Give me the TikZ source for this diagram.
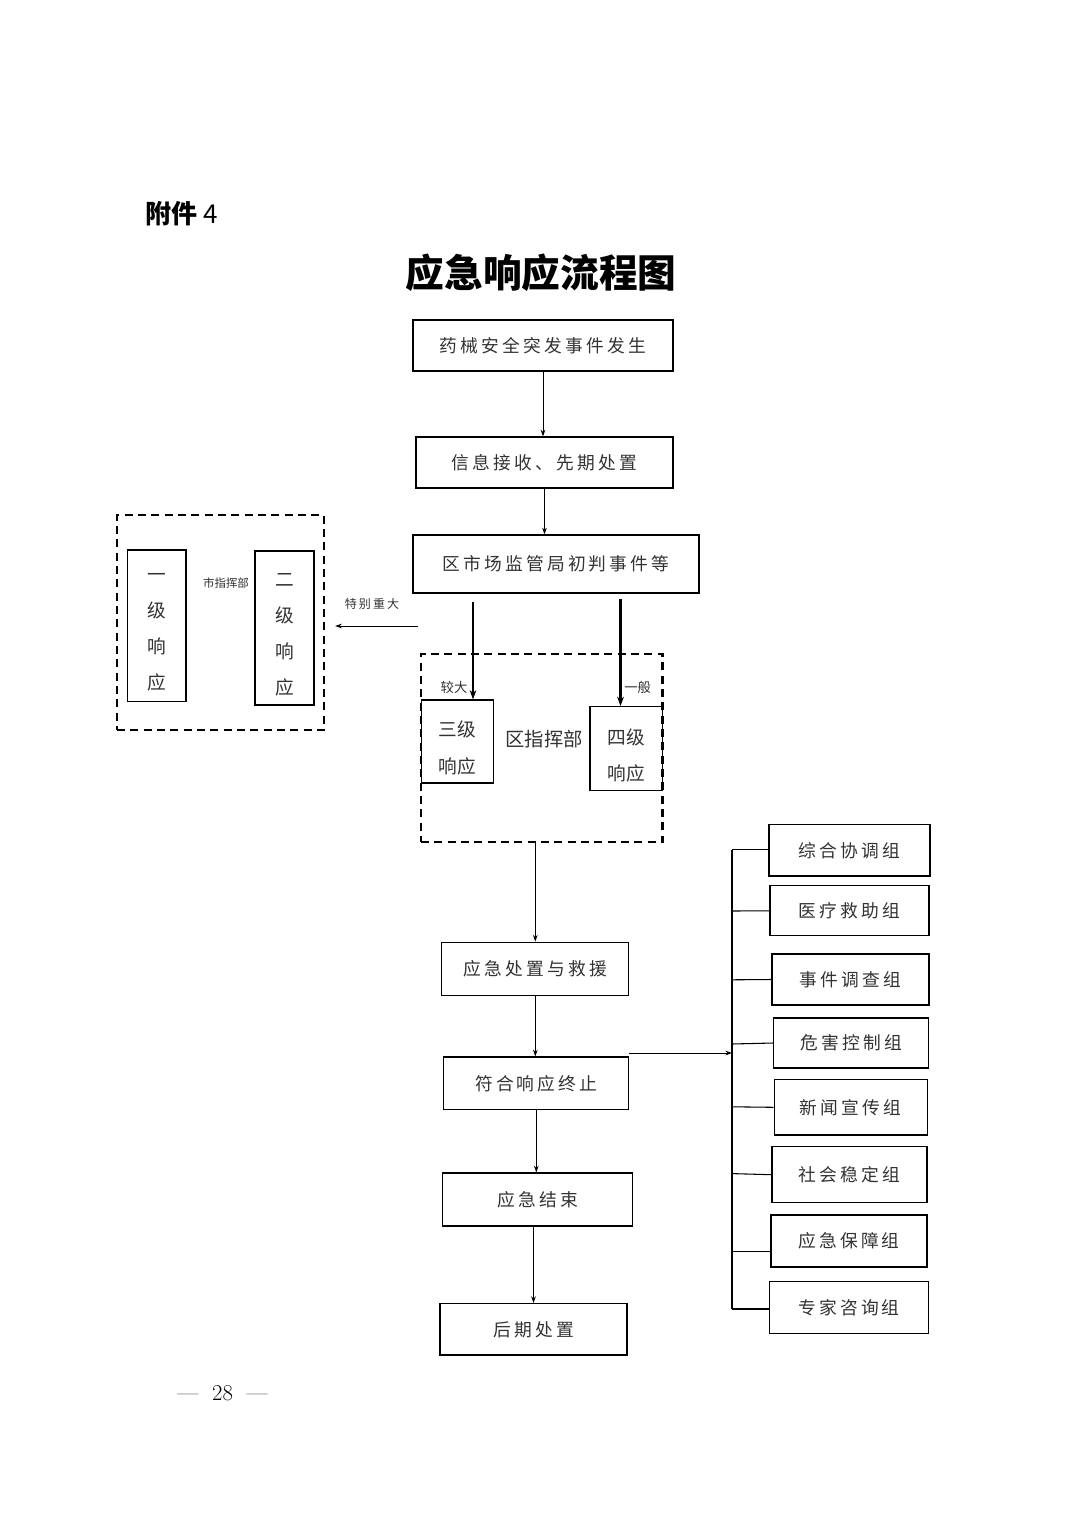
\documentclass[tikz,border=0pt]{standalone}
\usepackage{fontspec}
\usepackage{tikz}
\usetikzlibrary{arrows.meta}
\usetikzlibrary{positioning}

\newfontfamily\cjk[LetterSpace=18]{Noto Sans CJK SC}
\newfontfamily\cjkn{Noto Sans CJK SC}
\newcommand\boxfont{\cjk\fontsize{13.3pt}{16pt}\selectfont}
\newcommand\tagfont{\cjk\fontsize{9pt}{11pt}\selectfont}

\begin{document}
\begin{tikzpicture}[x=0.75pt, y=-0.75pt,
  sz/.style 2 args={minimum width=#1*0.75pt, minimum height=#2*0.75pt},
  box/.style={draw, line width=0.9pt, inner sep=0pt, font=\boxfont, text=black!80},
  vtext/.style={inner sep=0pt, yshift=-5pt, align=center, text=black!80, font=\cjkn\fontsize{14pt}{27pt}\selectfont},
  dashbox/.style={draw, dash pattern=on 6pt off 4pt, line width=1.8pt, inner sep=0pt},
  tag/.style={inner sep=0pt, text=black!80, font=\tagfont},
  arr/.style={-{Stealth[length=5pt,width=3.5pt]}, line width=0.7pt},
  thickarr/.style={-{Stealth[length=7pt,width=5pt]}, line width=1.6pt}]

\fill[white] (0,0) rectangle (1074,1520);
\useasboundingbox (0,0) rectangle (1074,1520);

% 标题
\node[anchor=west, inner sep=0pt, font=\cjkn\fontsize{19.5pt}{22pt}\selectfont] (fujian) at (145,214) {{\bfseries 附件} 4};
\node[inner sep=0pt, font=\cjkn\bfseries\fontsize{29pt}{32pt}\selectfont] (title) at (541,273) {应急响应流程图};

% 上部流程
\node[box, sz={260}{51}] (fasheng) at (543,345.5) {药械安全突发事件发生};
\node[box, sz={257}{51}] (jieshou) at (544.5,462.5) {信息接收、先期处置};
\node[box, sz={286}{58}] (chupan) at (556,564) {区市场监管局初判事件等};

\draw[arr] (fasheng) -- (fasheng |- jieshou.north);
\draw[arr] (jieshou) -- (jieshou |- chupan.north);

% 市指挥部
\node[dashbox, sz={207}{215}] (shi) at (220.5,622.5) {};
\node[box, sz={58.5}{151.7}, label={[vtext]center:一\\级\\响\\应}] (yiji) at (156.8,625.8) {};
\node[box, sz={59}{154}, label={[vtext]center:二\\级\\响\\应}] (erji) at (284.5,628) {};
\node[tag, font=\cjkn\fontsize{8.6pt}{10pt}\selectfont] (shizhb) at (226,583) {市指挥部};
\node[tag] (tebie) at (372,604) {特别重大};
\coordinate (tb) at (418,626);
\draw[arr, shorten >=7.5pt] (tb) -- (tb -| shi.east);

% 区指挥部
\node[dashbox, sz={241.6}{188}] (qu) at (541.8,748) {};
\node[box, sz={72}{83}, label={[vtext, font=\cjkn\fontsize{14pt}{27.5pt}\selectfont]center:三级\\响应}] (sanji) at (457.5,741.5) {};
\node[box, sz={72.6}{84}, label={[vtext]center:四级\\响应}] (siji) at (626.3,748.7) {};
\node[inner sep=0pt, text=black!80, font=\cjkn\fontsize{14.5pt}{17pt}\selectfont] (quzhb) at (544,739) {区指挥部};
\node[tag, font=\cjkn\fontsize{10pt}{12pt}\selectfont] (jiaoda) at (454,687) {较大};
\node[tag, font=\cjkn\fontsize{10pt}{12pt}\selectfont] (yiban) at (637.7,687) {一般};
\coordinate (k1) at (473,602);
\coordinate (k2) at (620.5,599);
\draw[thickarr] (k1) -- (k1 |- sanji.north);
\draw[thickarr] (k2) -- (k2 |- siji.north);

% 下部流程
\node[box, sz={187}{53}] (chuzhi) at (535.3,968.7) {应急处置与救援};
\node[box, sz={185}{52.6}] (zhongzhi) at (536.3,1083.3) {符合响应终止};
\node[box, sz={189.6}{53}] (jieshu) at (537.5,1199.5) {应急结束};
\node[box, sz={187}{51.5}] (houqi) at (533.5,1329.3) {后期处置};

\draw[arr] (qu.south -| chuzhi) -- (chuzhi.north);
\draw[arr] (chuzhi) -- (chuzhi |- zhongzhi.north);
\draw[arr] (zhongzhi) -- (zhongzhi |- jieshu.north);
\draw[arr] (houqi |- jieshu.south) -- (houqi.north);

% 工作组
\node[box, sz={161}{51.5}] (g1) at (849.5,850.3) {综合协调组};
\node[box, sz={159}{50}] (g2) at (849.5,910.8) {医疗救助组};
\node[box, sz={157}{51}] (g3) at (850.5,979.5) {事件调查组};
\node[box, sz={155}{50}] (g4) at (851.3,1043) {危害控制组};
\node[box, sz={153}{55.4}] (g5) at (850.7,1107.3) {新闻宣传组};
\node[box, sz={155}{55.8}] (g6) at (849.5,1174.7) {社会稳定组};
\node[box, sz={156}{52}] (g7) at (849,1241) {应急保障组};
\node[box, sz={159.4}{51.6}] (g8) at (849,1307.6) {专家咨询组};

\coordinate (bustop) at (732,849.6);
\coordinate (busbot) at (732,1309);
\coordinate (busin) at (732,1053);
\draw[line width=0.8pt] (bustop) -- (busbot);
\draw[arr] (zhongzhi.east |- busin) -- (busin);
\draw[line width=0.8pt] (bustop) -- (bustop -| g1.west);
\draw[line width=0.8pt] (732,911) -- (g2.west);
\draw[line width=0.8pt] (732,979.8) -- (g3.west);
\draw[line width=0.8pt] (732,1044) -- (g4.west);
\draw[line width=0.8pt] (732,1106.8) -- (g5.west);
\draw[line width=0.8pt] (732,1173.6) -- (g6.west);
\coordinate (b7) at (732,1251.8);
\draw[line width=0.8pt] (b7) -- (b7 -| g7.west);
\draw[line width=0.8pt] (busbot) -- (busbot -| g8.west);

% 页码
\node[inner sep=0pt, font=\fontsize{17pt}{20pt}\selectfont] (page) at (222.5,1393) {—\hspace{0.6em}28\hspace{0.6em}—};

\end{tikzpicture}
\end{document}
